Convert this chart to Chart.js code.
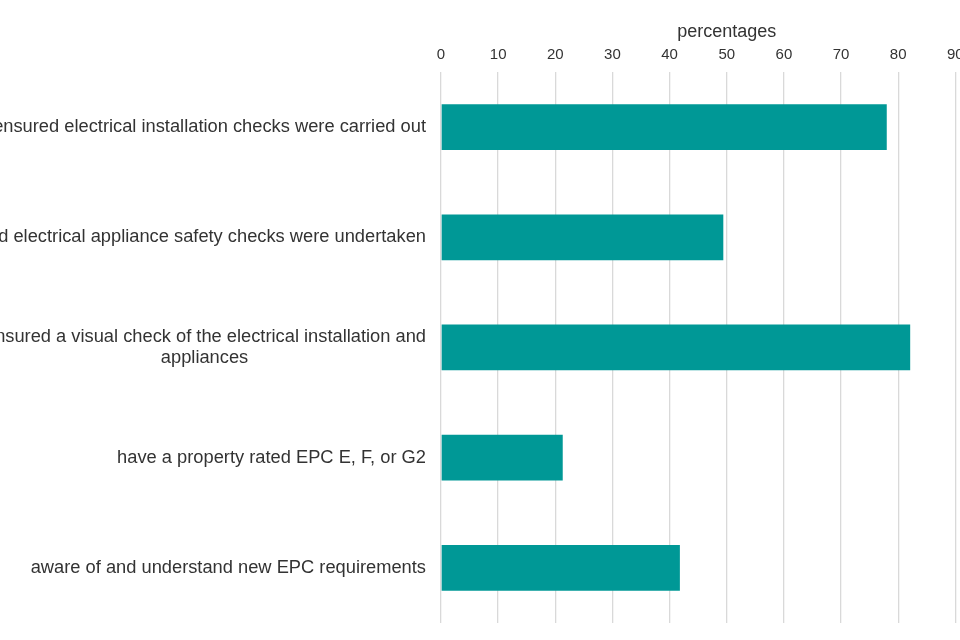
<!DOCTYPE html>
<html>
<head>
<meta charset="utf-8">
<script src="https://cdn.jsdelivr.net/npm/chart.js@4.4.1/dist/chart.umd.min.js"></script>
<style>
  html, body { margin: 0; padding: 0; overflow: hidden; background: #ffffff; }
  #c { position: absolute; left: 0; top: 0; }
</style>
</head>
<body>
<canvas id="c" width="1033" height="648"></canvas>
<script>
const categories = [
  "ensured electrical installation checks were carried out",
  "ensured electrical appliance safety checks were undertaken",
  ["ensured a visual check of the electrical installation and", "appliances"],
  "have a property rated EPC E, F, or G2",
  "aware of and understand new EPC requirements"
];
const values = [78, 49.4, 82.1, 21.3, 41.8];
const axisTitle = "percentages";
const xMin = 0, xMax = 100, xStep = 10;

const fam = "'Liberation Sans', Arial, sans-serif";
const labelSize = 18.3;
const labelFont = labelSize + "px " + fam;
const mctx = document.createElement('canvas').getContext('2d');
function centerLines(lines) {
  mctx.font = labelFont;
  const w = Math.max(...lines.map(l => mctx.measureText(l).width));
  const sp = mctx.measureText(' ').width;
  return lines.map(l => l + ' '.repeat(Math.round((w - mctx.measureText(l).width) / 2 / sp)));
}

new Chart(document.getElementById('c'), {
  type: 'bar',
  data: {
    labels: categories,
    datasets: [{
      data: values,
      backgroundColor: '#009896',
      borderWidth: 0,
      categoryPercentage: 1,
      barPercentage: 0.415
    }]
  },
  options: {
    indexAxis: 'y',
    responsive: false,
    animation: false,
    devicePixelRatio: 1,
    layout: { padding: { top: 0, left: 0, right: 0, bottom: 6 } },
    plugins: { legend: { display: false }, tooltip: { enabled: false } },
    scales: {
      x: {
        position: 'top',
        min: xMin, max: xMax,
        ticks: {
          stepSize: xStep,
          padding: 8,
          color: '#333333',
          font: { family: fam, size: 15 }
        },
        grid: { color: '#d9d9d9', lineWidth: 1.3, drawTicks: false },
        border: { display: false },
        title: {
          display: true,
          text: axisTitle,
          color: '#333333',
          font: { family: fam, size: 18 },
          padding: { top: 21, bottom: 0 }
        },
        afterFit: s => { s.height = 72; }
      },
      y: {
        grid: { display: false, drawTicks: false },
        border: { display: false },
        ticks: {
          padding: 15,
          color: '#333333',
          font: { family: fam, size: labelSize, lineHeight: 1.1 },
          callback: function (v) {
            const l = this.getLabelForValue(v);
            return Array.isArray(l) ? centerLines(l) : l;
          }
        },
        afterFit: s => { s.width = 441; }
      }
    }
  }
});
</script>
</body>
</html>
